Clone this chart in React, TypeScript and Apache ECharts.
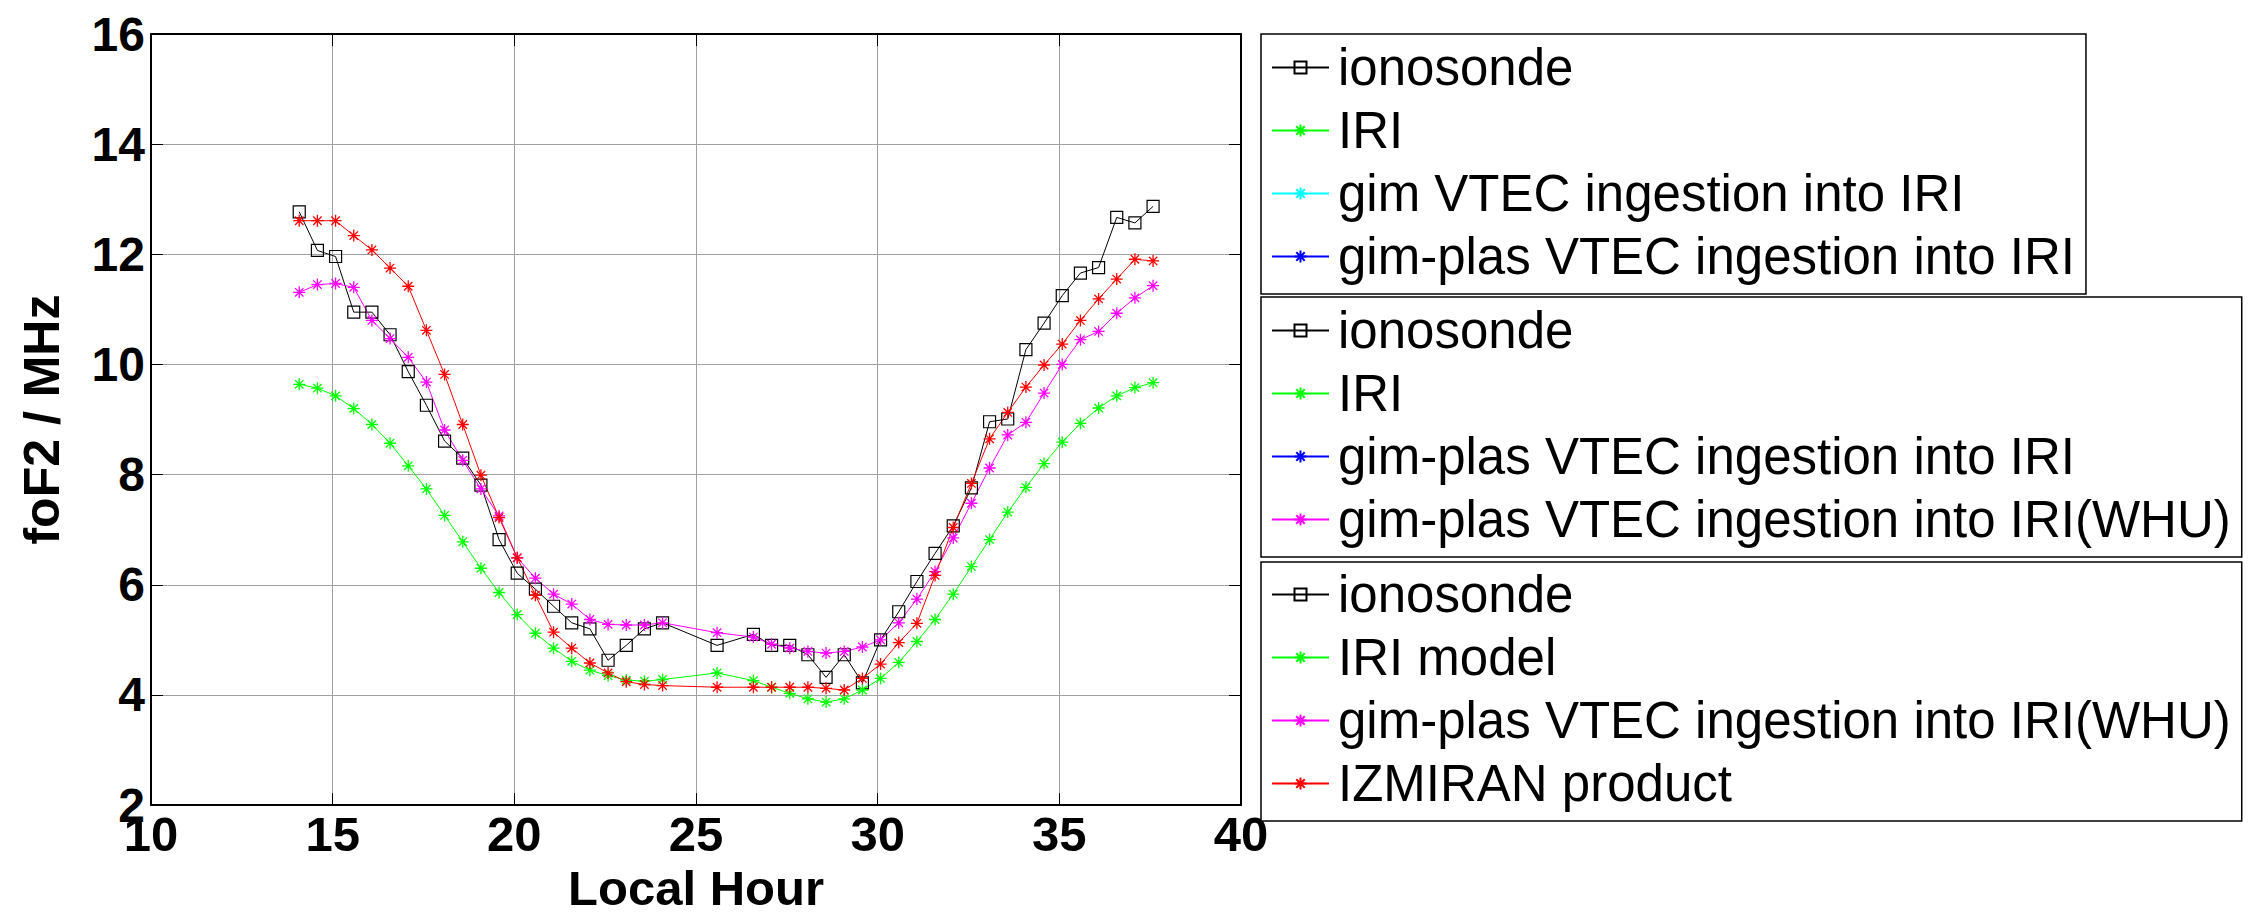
import React, { useEffect, useRef } from "react";
import * as echarts from "echarts";

// Local hour of each sample
const hours = [
  14.08, 14.58, 15.08, 15.58, 16.08, 16.58, 17.08, 17.58, 18.08, 18.58, 19.08,
  19.58, 20.08, 20.58, 21.08, 21.58, 22.08, 22.58, 23.08, 23.58, 24.08, 25.58,
  26.58, 27.08, 27.58, 28.08, 28.58, 29.08, 29.58, 30.08, 30.58, 31.08, 31.58,
  32.08, 32.58, 33.08, 33.58, 34.08, 34.58, 35.08, 35.58, 36.08, 36.58, 37.08,
  37.58,
];

const ionosonde = [
  12.77, 12.07, 11.96, 10.95, 10.95, 10.54, 9.87, 9.26, 8.61, 8.3, 7.81, 6.82,
  6.21, 5.92, 5.61, 5.31, 5.2, 4.63, 4.9, 5.2, 5.31, 4.9, 5.1, 4.9, 4.9, 4.73,
  4.32, 4.73, 4.22, 5.0, 5.51, 6.06, 6.57, 7.07, 7.76, 8.96, 9.01, 10.27, 10.75,
  11.25, 11.66, 11.76, 12.67, 12.57, 12.87,
];

const iri = [
  9.64, 9.57, 9.43, 9.2, 8.91, 8.57, 8.16, 7.74, 7.26, 6.78, 6.3, 5.86, 5.46,
  5.12, 4.85, 4.61, 4.45, 4.35, 4.27, 4.25, 4.28, 4.4, 4.26, 4.14, 4.03, 3.93,
  3.87, 3.93, 4.09, 4.3, 4.59, 4.97, 5.37, 5.83, 6.33, 6.82, 7.32, 7.77, 8.2,
  8.59, 8.93, 9.21, 9.43, 9.58, 9.67,
];

const gimPlasWhu = [
  11.31, 11.45, 11.47, 11.4, 10.8, 10.47, 10.13, 9.68, 8.81, 8.26, 7.74, 7.25,
  6.49, 6.12, 5.83, 5.65, 5.37, 5.28, 5.27, 5.27, 5.31, 5.13, 5.05, 4.92, 4.85,
  4.79, 4.76, 4.79, 4.87, 5.0, 5.31, 5.74, 6.24, 6.85, 7.48, 8.12, 8.72, 8.95,
  9.48, 10.0, 10.45, 10.6, 10.93, 11.21, 11.43,
];

const izmiran = [
  12.61, 12.61, 12.61, 12.34, 12.08, 11.75, 11.42, 10.62, 9.82, 8.91, 7.99, 7.22,
  6.49, 5.81, 5.14, 4.85, 4.58, 4.4, 4.24, 4.19, 4.17, 4.14, 4.14, 4.14, 4.14,
  4.14, 4.12, 4.09, 4.3, 4.56, 4.95, 5.3, 6.17, 7.04, 7.84, 8.65, 9.13, 9.59,
  9.99, 10.37, 10.8, 11.19, 11.55, 11.91, 11.88,
];

const legendBox1 = [
  "ionosonde",
  "IRI",
  "gim VTEC ingestion into IRI",
  "gim-plas VTEC ingestion into IRI",
];
const legendBox2 = [
  "ionosonde",
  "IRI",
  "gim-plas VTEC ingestion into IRI",
  "gim-plas VTEC ingestion into IRI(WHU)",
];
const legendBox3 = [
  "ionosonde",
  "IRI model",
  "gim-plas VTEC ingestion into IRI(WHU)",
  "IZMIRAN product",
];

const FONT = "'Liberation Sans', Arial, Helvetica, sans-serif";
const STAR =
  "path://M5 0 L5 10 M0 5 L10 5 M1.5 1.5 L8.5 8.5 M1.5 8.5 L8.5 1.5";

function pairs(ys: number[]) {
  return hours.map((h, i) => [h, ys[i]]);
}

function starSeries(name: string, color: string, ys: number[] | null) {
  return {
    name,
    type: "line",
    data: ys ? pairs(ys) : [],
    symbol: STAR,
    symbolSize: 12,
    showSymbol: true,
    lineStyle: { color, width: 1 },
    itemStyle: { color, borderColor: color, borderWidth: 1.3 },
    emphasis: { disabled: true },
  };
}

function makeLegend(data: string[], top: number, padTop: number) {
  return {
    data,
    orient: "vertical",
    left: 1261,
    top,
    padding: [padTop, 11, 6, 10],
    itemWidth: 57,
    itemHeight: 15,
    itemGap: 0,
    selectedMode: false,
    backgroundColor: "#fff",
    borderColor: "#000",
    borderWidth: 1.5,
    borderRadius: 0,
    textStyle: {
      fontFamily: FONT,
      fontSize: 51,
      lineHeight: 51,
      color: "#000",
      padding: [0, 0, 12, 4],
    },
  };
}

export default function App() {
  const ref = useRef<HTMLDivElement>(null);

  useEffect(() => {
    if (!ref.current) return;
    const chart = echarts.init(ref.current, undefined, { renderer: "svg" });

    const tickLabel = {
      fontFamily: FONT,
      fontSize: 48,
      fontWeight: "bold",
      color: "#000",
    };

    chart.setOption({
      animation: false,
      backgroundColor: "#fff",
      grid: { left: 151, top: 34, width: 1090, height: 785, containLabel: false },
      xAxis: [
        {
          type: "value",
          min: 10,
          max: 40,
          interval: 5,
          position: "bottom",
          name: "Local Hour",
          nameLocation: "middle",
          nameGap: 51,
          nameTextStyle: { ...tickLabel, fontSize: 49 },
          axisLine: { show: true, onZero: false, lineStyle: { color: "#000", width: 2 } },
          axisTick: { show: true, inside: true, length: 12, lineStyle: { color: "#000", width: 1 } },
          axisLabel: { ...tickLabel, fontSize: 49, margin: 4 },
          splitLine: { show: true, lineStyle: { color: "#a0a0a0", width: 1 } },
        },
        {
          type: "value",
          min: 10,
          max: 40,
          interval: 5,
          position: "top",
          axisLine: { show: true, onZero: false, lineStyle: { color: "#000", width: 2 } },
          axisTick: { show: true, inside: true, length: 12, lineStyle: { color: "#000", width: 1 } },
          axisLabel: { show: false },
          splitLine: { show: false },
        },
      ],
      yAxis: [
        {
          type: "value",
          min: 2,
          max: 16,
          interval: 2,
          position: "left",
          name: "foF2 / MHz",
          nameLocation: "middle",
          nameGap: 84,
          nameTextStyle: { ...tickLabel, fontSize: 50 },
          axisLine: { show: true, onZero: false, lineStyle: { color: "#000", width: 2 } },
          axisTick: { show: true, inside: true, length: 12, lineStyle: { color: "#000", width: 1 } },
          axisLabel: { ...tickLabel, margin: 6, padding: [0, 0, 14, 0] },
          splitLine: { show: true, lineStyle: { color: "#a0a0a0", width: 1 } },
        },
        {
          type: "value",
          min: 2,
          max: 16,
          interval: 2,
          position: "right",
          axisLine: { show: true, onZero: false, lineStyle: { color: "#000", width: 2 } },
          axisTick: { show: true, inside: true, length: 12, lineStyle: { color: "#000", width: 1 } },
          axisLabel: { show: false },
          splitLine: { show: false },
        },
      ],
      legend: [
        makeLegend(legendBox1, 34, 2),
        makeLegend(legendBox2, 297, 2),
        makeLegend(legendBox3, 562, 1),
      ],
      series: [
        {
          name: "ionosonde",
          type: "line",
          data: pairs(ionosonde),
          symbol: "rect",
          symbolSize: 12,
          lineStyle: { color: "#000", width: 1 },
          itemStyle: { color: "rgba(255,255,255,0)", borderColor: "#000", borderWidth: 1.2 },
          emphasis: { disabled: true },
          z: 3,
        },
        starSeries("IRI", "#00ff00", iri),
        starSeries("gim VTEC ingestion into IRI", "#00ffff", null),
        starSeries("gim-plas VTEC ingestion into IRI", "#0000ff", null),
        starSeries("gim-plas VTEC ingestion into IRI(WHU)", "#ff00ff", gimPlasWhu),
        starSeries("IZMIRAN product", "#ff0000", izmiran),
        starSeries("IRI model", "#00ff00", null),
      ],
    });

    return () => chart.dispose();
  }, []);

  return (
    <div
      ref={ref}
      style={{ position: "absolute", left: 0, top: 0, width: 2264, height: 917 }}
    />
  );
}
